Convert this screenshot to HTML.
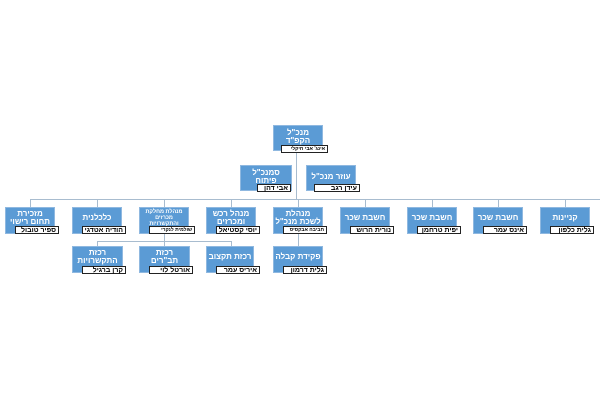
<!DOCTYPE html>
<html><head><meta charset="utf-8"><style>
body{margin:0;width:600px;height:400px;background:#fff;position:relative;overflow:hidden;font-family:"Liberation Sans","Noto Sans CJK SC",sans-serif}
.b{position:absolute;background:#5b9bd5;border:1px solid #8fb8e0;color:#fff;font-size:8px;font-weight:bold;text-align:center;direction:rtl;display:flex;align-items:flex-start;justify-content:center;line-height:8px;box-sizing:border-box;padding-top:2px}
.b.s{font-size:5.5px;line-height:6px;padding-top:1px}
.n{position:absolute;background:#fff;border:1px solid #222;color:#000;font-size:7px;font-weight:bold;direction:rtl;text-align:right;line-height:7px;height:8px;box-sizing:border-box;padding:0 2px;white-space:nowrap}
.n.s{font-size:5px}
.l{position:absolute;background:#a8bccf}
</style></head><body>
<div class="l" style="left:296px;top:150px;width:1px;height:50px"></div>
<div class="l" style="left:30px;top:199px;width:570px;height:1px"></div>
<div class="l" style="left:30px;top:199px;width:1px;height:8px"></div>
<div class="l" style="left:97px;top:199px;width:1px;height:8px"></div>
<div class="l" style="left:164px;top:199px;width:1px;height:8px"></div>
<div class="l" style="left:231px;top:199px;width:1px;height:8px"></div>
<div class="l" style="left:298px;top:199px;width:1px;height:8px"></div>
<div class="l" style="left:365px;top:199px;width:1px;height:8px"></div>
<div class="l" style="left:432px;top:199px;width:1px;height:8px"></div>
<div class="l" style="left:498px;top:199px;width:1px;height:8px"></div>
<div class="l" style="left:565px;top:199px;width:1px;height:8px"></div>
<div class="l" style="left:164px;top:234px;width:1px;height:7px"></div>
<div class="l" style="left:97px;top:241px;width:134px;height:1px"></div>
<div class="l" style="left:97px;top:241px;width:1px;height:5px"></div>
<div class="l" style="left:164px;top:241px;width:1px;height:5px"></div>
<div class="l" style="left:231px;top:241px;width:1px;height:5px"></div>
<div class="l" style="left:298px;top:232px;width:1px;height:14px"></div>

<div class="b" style="left:273px;top:125px;width:50px;height:26px;padding-top:3px">מנכ"ל<br>הקפ"ד</div>
<div class="n s" style="left:281px;top:145px;width:47px">אינג' אבי חיקלי</div>
<div class="b" style="left:240px;top:165px;width:52px;height:26px;padding-top:3px">סמנכ"ל<br>פיתוח</div>
<div class="n" style="left:257px;top:184px;width:34px">אבי דהן</div>
<div class="b" style="left:306px;top:165px;width:50px;height:26px;padding-top:7px">עוזר מנכ"ל</div>
<div class="n" style="left:314px;top:184px;width:46px">עידן רגב</div>

<div class="b" style="left:5px;top:207px;width:50px;height:27px">מזכירת<br>תחום רישוי</div>
<div class="n" style="left:15px;top:226px;width:44px">ספיר טובול</div>
<div class="b" style="left:72px;top:207px;width:50px;height:27px;padding-top:6px">כלכלנית</div>
<div class="n" style="left:82px;top:226px;width:44px">הודיה אטדגי</div>
<div class="b s" style="left:139px;top:207px;width:50px;height:27px">מנהלת מחלקת<br>מכרזים<br>והתקשרויות</div>
<div class="n s" style="left:149px;top:226px;width:46px">שולמית לנקרי</div>
<div class="b" style="left:206px;top:207px;width:50px;height:27px">מנהל רכש<br>ומכרזים</div>
<div class="n" style="left:216px;top:226px;width:44px">יוסי קסטיאל</div>
<div class="b" style="left:273px;top:207px;width:50px;height:27px">מנהלת<br>לשכת מנכ"ל</div>
<div class="n s" style="left:283px;top:226px;width:44px">חביבה אבקסיס</div>
<div class="b" style="left:340px;top:207px;width:50px;height:27px;padding-top:6px">חשבת שכר</div>
<div class="n" style="left:350px;top:226px;width:44px">נורית הרוש</div>
<div class="b" style="left:407px;top:207px;width:50px;height:27px;padding-top:6px">חשבת שכר</div>
<div class="n" style="left:417px;top:226px;width:44px">יפית טרחמן</div>
<div class="b" style="left:473px;top:207px;width:50px;height:27px;padding-top:6px">חשבת שכר</div>
<div class="n" style="left:483px;top:226px;width:44px">אינס עמר</div>
<div class="b" style="left:540px;top:207px;width:50px;height:27px;padding-top:6px">קניינות</div>
<div class="n" style="left:550px;top:226px;width:44px">גלית כלפון</div>

<div class="b" style="left:72px;top:246px;width:51px;height:27px">רכזת<br>התקשרויות</div>
<div class="n" style="left:82px;top:266px;width:44px">קרן ברגיל</div>
<div class="b" style="left:139px;top:246px;width:51px;height:27px">רכזת<br>תב"רים</div>
<div class="n" style="left:149px;top:266px;width:44px">אורטל לוי</div>
<div class="b" style="left:206px;top:246px;width:48px;height:27px;padding-top:6px">רכזת תקצוב</div>
<div class="n" style="left:216px;top:266px;width:44px">איריס עמר</div>
<div class="b" style="left:273px;top:246px;width:50px;height:27px;padding-top:6px">פקידת קבלה</div>
<div class="n" style="left:283px;top:266px;width:44px">גלית דרמון</div>
</body></html>
